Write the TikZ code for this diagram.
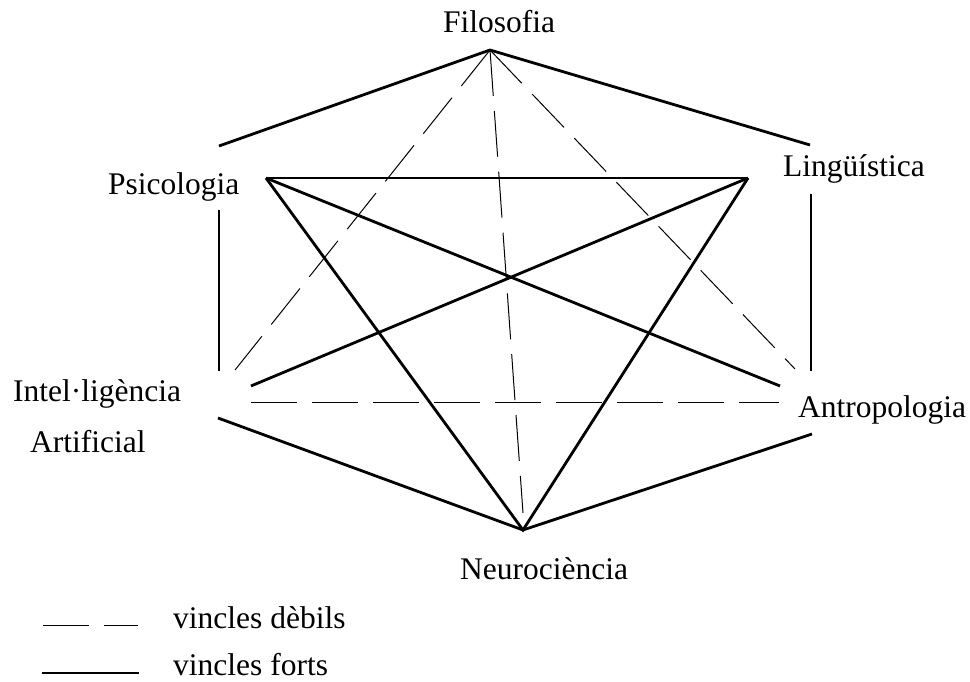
\documentclass[tikz,border=0pt]{standalone}
\usepackage{fontspec}
\setmainfont{Liberation Serif}
\begin{document}
\begin{tikzpicture}[x=1pt,y=-1pt,
  strong/.style={line width=2.8pt},
  weak/.style={line width=1pt, dash pattern=on 46pt off 15pt},
  lbl/.style={inner sep=0pt, font=\fontsize{31.5}{36}\selectfont}]
\useasboundingbox (0,0) rectangle (970,682);

% discipline labels
\node[lbl, anchor=base] (fil) at (499,33) {Filosofia};
\node[lbl, anchor=base west] (psi) at (108,195) {Psicologia};
\node[lbl, anchor=base west] (lin) at (783,177) {Lingüística};
\node[lbl, anchor=base west] (ia1) at (13,401) {Intel·ligència};
\node[lbl, anchor=base west] (ia2) at (30,452) {Artificial};
\node[lbl, anchor=base west] (ant) at (798,417) {Antropologia};
\node[lbl, anchor=base west] (neu) at (460,579) {Neurociència};

% vertices and line ends
\coordinate (F) at (490,50);
\coordinate (Fl) at (219,146);
\coordinate (Fr) at (810,145);
\coordinate (P) at (266,178);
\coordinate (L) at (748,178);
\coordinate (Pt) at (219,210);
\coordinate (Pb) at (219,371);
\coordinate (Lt) at (811,194);
\coordinate (Lb) at (811,371);
\coordinate (Ia) at (251,386);
\coordinate (Id) at (251,402);
\coordinate (Il) at (218,418);
\coordinate (Iw) at (235,370);
\coordinate (Aa) at (780,386);
\coordinate (Ad) at (779,402);
\coordinate (Al) at (812,434);
\coordinate (Aw) at (795,369);
\coordinate (Nw) at (523,513);
\coordinate (N) at (523,530);

% strong links
\draw[strong] (Fl) -- (F) -- (Fr);
\draw[strong] (Pt) -- (Pb);
\draw[strong] (Lt) -- (Lb);
\draw[strong] (P) -- (L);
\draw[strong] (P) -- (N) -- (L);
\draw[strong] (Ia) -- (L);
\draw[strong] (P) -- (Aa);
\draw[strong] (Il) -- (N) -- (Al);

% weak links
\draw[weak] (F) -- (Iw);
\draw[weak] (F) -- (Aw);
\draw[weak] (F) -- (Nw);
\draw[weak] (Id) -- (Ad);

% legend
\coordinate (k1a) at (43,625);
\coordinate (k1b) at (138,625);
\coordinate (k2a) at (42,673);
\coordinate (k2b) at (139,673);
\draw[weak] (k1a) -- (k1b);
\draw[strong] (k2a) -- (k2b);
\node[lbl, anchor=base west] (kw) at (173,628) {vincles dèbils};
\node[lbl, anchor=base west] (ks) at (173,675) {vincles forts};
\end{tikzpicture}
\end{document}
